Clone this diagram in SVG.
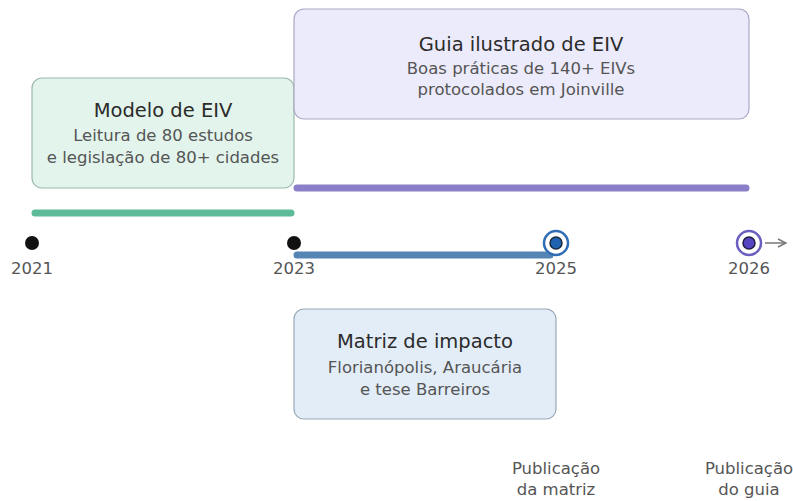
<svg xmlns="http://www.w3.org/2000/svg" width="793" height="501" viewBox="0 0 793 501">
<defs>
<style>
text{font-family:"DejaVu Sans",sans-serif;text-anchor:middle}
.t{font-size:19.5px;fill:#2b2b2b}
.s{font-size:16.5px;fill:#555}
.y{font-size:16.5px;fill:#555}
.box{stroke-width:1.2}
.bar{stroke-width:7;stroke-linecap:round;fill:none}
</style>
<marker id="ah" markerWidth="10" markerHeight="10" refX="9" refY="5" orient="auto" markerUnits="userSpaceOnUse"><path d="M1,1 L9,5 L1,9" fill="none" stroke="#777" stroke-width="1.5"/></marker>
</defs>
<rect width="793" height="501" fill="#fff"/>
<g id="connectors">
<line class="bar" x1="35" y1="213" x2="291" y2="213" stroke="#5dbb98"/>
<line class="bar" x1="297" y1="188" x2="746" y2="188" stroke="#8a7fc8"/>
<line class="bar" x1="297" y1="255" x2="550" y2="255" stroke="#5585b5"/>
<line x1="765" y1="243" x2="786" y2="243" stroke="#777" stroke-width="1.5" marker-end="url(#ah)"/>
</g>
<g id="node-modelo">
<rect class="box" x="32" y="78" width="262" height="110" rx="10" fill="#e2f4ec" stroke="#9bb8ab"/>
<text class="t" x="163" y="117">Modelo de EIV</text>
<text class="s" x="163" y="141">Leitura de 80 estudos</text>
<text class="s" x="163" y="163">e legislação de 80+ cidades</text>
</g>
<g id="node-guia">
<rect class="box" x="294" y="9" width="455" height="110" rx="10" fill="#ecebfb" stroke="#aaa7c4"/>
<text class="t" x="521" y="51">Guia ilustrado de EIV</text>
<text class="s" x="521" y="74">Boas práticas de 140+ EIVs</text>
<text class="s" x="521" y="95">protocolados em Joinville</text>
</g>
<g id="node-matriz">
<rect class="box" x="294" y="309" width="262" height="110" rx="10" fill="#e2edf8" stroke="#9aa9b8"/>
<text class="t" x="425" y="348">Matriz de impacto</text>
<text class="s" x="425" y="373">Florianópolis, Araucária</text>
<text class="s" x="425" y="395">e tese Barreiros</text>
</g>
<g id="point-2021">
<circle cx="32" cy="243" r="7" fill="#111"/>
<text class="y" x="32" y="274">2021</text>
</g>
<g id="point-2023">
<circle cx="294" cy="243" r="7" fill="#111"/>
<text class="y" x="294" y="274">2023</text>
</g>
<g id="point-2025">
<circle cx="556" cy="243" r="12" fill="#fff" stroke="#2f6eb5" stroke-width="2.5"/>
<circle cx="556" cy="243" r="6" fill="#1f63b0" stroke="#1a2a40" stroke-width="1.5"/>
<text class="y" x="556" y="274">2025</text>
<text class="y" x="556" y="474">Publicação</text>
<text class="y" x="556" y="495">da matriz</text>
</g>
<g id="point-2026">
<circle cx="749" cy="243" r="12" fill="#fff" stroke="#6a5fc0" stroke-width="2.5"/>
<circle cx="749" cy="243" r="6" fill="#5545c0" stroke="#1f1a40" stroke-width="1.5"/>
<text class="y" x="749" y="274">2026</text>
<text class="y" x="749" y="474">Publicação</text>
<text class="y" x="749" y="495">do guia</text>
</g>
</svg>
